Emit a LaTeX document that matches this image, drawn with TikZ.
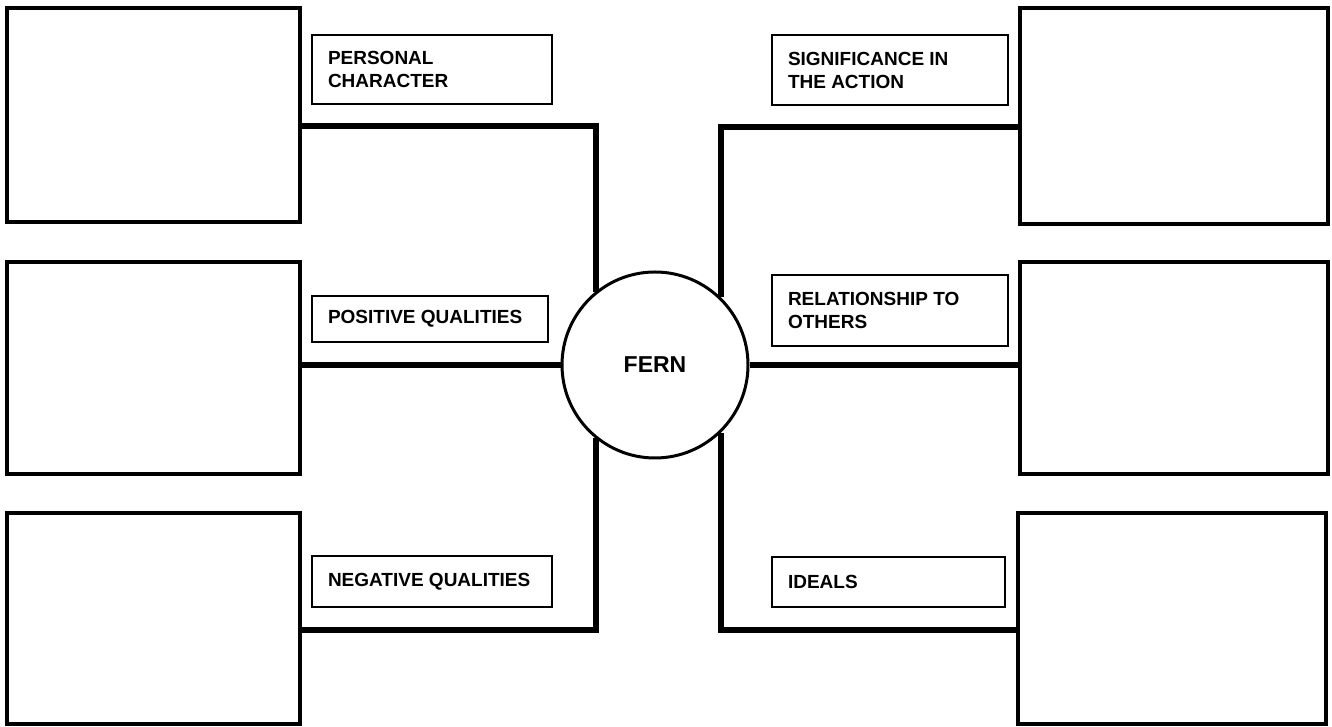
\documentclass[tikz,border=0pt]{standalone}
\usepackage{fontspec}
\setmainfont{Liberation Sans}
\begin{document}
\begin{tikzpicture}[x=1pt,y=1pt,
    bigbox/.style={draw,line width=3.5pt,inner sep=0pt},
    tagbox/.style={draw,line width=2pt,inner xsep=16pt,inner ysep=0pt,
      align=flush left,font=\fontsize{19}{23}\selectfont\bfseries},
    link/.style={line width=6pt}]
  \useasboundingbox (0,0) rectangle (1332,727);
  % centre
  \node[circle,draw,line width=3pt,minimum size=186pt,
        font=\fontsize{23}{25}\selectfont\bfseries] (fern) at (655,362) {FERN};
  % answer boxes, left
  \node[bigbox,minimum width=293pt,minimum height=214pt] (tl) at (153.5,612) {};
  \node[bigbox,minimum width=293pt,minimum height=212pt] (ml) at (153.5,359) {};
  \node[bigbox,minimum width=293pt,minimum height=211pt] (bl) at (153.5,108.5) {};
  % answer boxes, right
  \node[bigbox,minimum width=308pt,minimum height=216pt] (tr) at (1174,611) {};
  \node[bigbox,minimum width=308pt,minimum height=212pt] (mr) at (1174,359) {};
  \node[bigbox,minimum width=308pt,minimum height=211pt] (br) at (1172,108.5) {};
  % headings
  \node[tagbox,text width=208pt,minimum height=69pt] (pc) at (432,657.5) {PERSONAL\\CHARACTER};
  \node[tagbox,text width=204pt,minimum height=46pt] (pq) at (430,408) {POSITIVE QUALITIES};
  \node[tagbox,text width=208pt,minimum height=51pt] (nq) at (432,145.5) {NEGATIVE QUALITIES};
  \node[tagbox,text width=204pt,minimum height=70pt] (sa) at (890,657) {SIGNIFICANCE IN\\THE ACTION};
  \node[tagbox,text width=204pt,minimum height=71pt] (ro) at (890,416.5) {RELATIONSHIP TO\\OTHERS};
  \node[tagbox,text width=201pt,minimum height=50pt] (id) at (888.5,145) {IDEALS};
  % connectors
  \draw[link] ([yshift=-11pt]tl.east) -| (fern.129);
  \draw[link] (fern.west) -- (ml.east |- fern.west);
  \draw[link] ([yshift=-11.5pt]bl.east) -| (fern.231);
  \draw[link] ([yshift=-11pt]tr.west) -| (fern.46);
  \draw[link] (fern.east) -- (mr.west |- fern.east);
  \draw[link] ([yshift=-11.5pt]br.west) -| (fern.314);
\end{tikzpicture}
\end{document}
